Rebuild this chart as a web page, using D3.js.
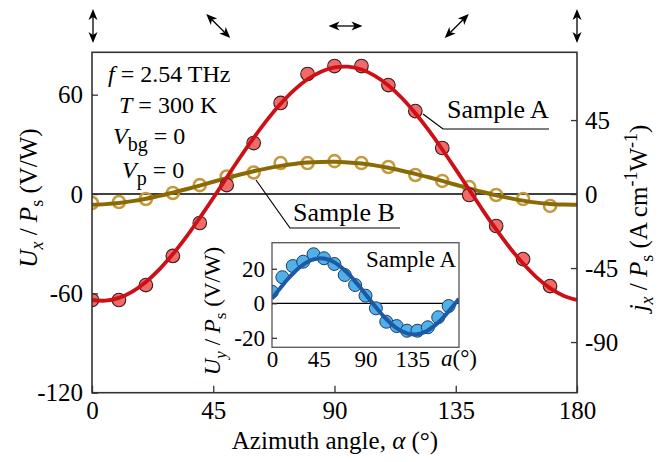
<!DOCTYPE html>
<html><head><meta charset="utf-8">
<script src="https://cdn.jsdelivr.net/npm/d3@7"></script>
<style>
body{margin:0;background:#fff}
svg{display:block}
text{font-family:"Liberation Serif","Times New Roman",serif;fill:#000}
</style>
</head><body>
<svg id="chart" width="663" height="462"></svg>
<script>
// ---------------- data ----------------
const angles = [0,10,20,30,40,50,60,70,80,90,100,110,120,130,140,150,160,170];
const sampleA = [-64.0,-64.0,-55.0,-37.4,-17.5,5.4,30.8,55.0,72.5,77.3,77.3,65.8,50.1,27.8,-0.6,-19.3,-39.3,-55.6];
const sampleB = [-5.4,-4.8,-3.0,0.6,5.4,10.6,13.0,18.7,18.7,19.9,18.7,16.3,11.5,7.9,4.2,-0.6,-3.0,-7.2];
const fitAngles = [0,5,10,15,20,25,30,35,40,45,50,55,60,65,70,75,80,85,90,95,100,105,110,115,120,125,130,135,140,145,150,155,160,165,170,175,180];
const fitA = [-64.0,-64.4,-62.7,-58.9,-53.1,-45.5,-36.3,-25.9,-14.4,-2.4,10.0,22.2,33.9,44.8,54.5,62.8,69.3,73.9,76.5,76.9,75.2,71.4,65.6,58.0,48.8,38.4,26.9,14.9,2.6,-9.7,-21.4,-32.3,-42.0,-50.3,-56.8,-61.4,-64.0];
const fitB = [-6.5,-6.1,-5.4,-4.3,-2.9,-1.1,0.8,2.9,5.1,7.4,9.6,11.8,13.8,15.5,17.0,18.2,19.0,19.4,19.5,19.1,18.4,17.3,15.9,14.1,12.2,10.1,7.9,5.6,3.4,1.2,-0.8,-2.5,-4.0,-5.2,-6.0,-6.4,-6.5];
const insetUy = [6.7,15.1,21.6,24.1,28.4,26.1,22.8,16.4,10.6,4.4,-2.9,-10.7,-13.2,-15.9,-15.9,-13.9,-8.1,-1.6];
const fitUy = [2.7,6.5,10.3,13.9,17.1,20.0,22.4,24.2,25.4,26.0,25.9,25.1,23.7,21.7,19.1,16.1,12.7,9.1,5.3,1.5,-2.3,-5.9,-9.1,-12.0,-14.4,-16.2,-17.4,-18.0,-17.9,-17.1,-15.7,-13.7,-11.1,-8.1,-4.7,-1.1,2.7];
const xTicks = [0,45,90,135,180];
const yTicksLeft = [60,0,-60,-120];
const yTicksRight = [45,0,-45,-90];
const insetXTicks = [0,45,90,135];
const insetYTicks = [20,0,-20];
const polAngles = [0,45,90,135,180];
const polOffsets = [1,5,11,1,0];

// ---------------- layout ----------------
const svg = d3.select("#chart");
const L = 92, R = 577, T = 52.3, B = 392.7;
const x = d3.scaleLinear([0,180],[L,R]);
const y = d3.scaleLinear([-120,85.6],[B,T]);
const yR = d3.scaleLinear([-120.8,86.2],[B,T]);
const fmt = d => String(d); // plain hyphen minus

const defs = svg.append("defs");
defs.append("clipPath").attr("id","clipMain").append("rect")
  .attr("x",L).attr("y",T).attr("width",R-L).attr("height",B-T);

// polarization arrows
const pol = svg.append("g");
polAngles.forEach((a,i)=>{
  const g = pol.append("g").attr("transform",`translate(${x(a)+polOffsets[i]},26) rotate(${-a})`);
  g.append("line").attr("x1",0).attr("x2",0).attr("y1",-11).attr("y2",11)
    .attr("stroke","#000").attr("stroke-width",1.3);
  [1,-1].forEach(s=>{
    g.append("path").attr("d",`M0,${17*s} L${-4.5},${6*s} L0,${9*s} L${4.5},${6*s} Z`).attr("fill","#000");
  });
});

// zero line
svg.append("line").attr("x1",L).attr("x2",R).attr("y1",y(0)).attr("y2",y(0))
  .attr("stroke","#000").attr("stroke-width",1.5);

const plot = svg.append("g").attr("clip-path","url(#clipMain)");
const line = d3.line().x((d,i)=>x(fitAngles[i])).y(d=>y(d)).curve(d3.curveCatmullRom);

// Sample B (gold)
plot.selectAll("circle.b").data(sampleB).join("circle")
  .attr("cx",(d,i)=>x(angles[i])).attr("cy",d=>y(d)).attr("r",6)
  .attr("fill","none").attr("stroke","#c39a3e").attr("stroke-width",2.6);
plot.append("path").attr("d",line(fitB)).attr("fill","none")
  .attr("stroke","#8a6a05").attr("stroke-width",4);

// Sample A (red)
plot.selectAll("circle.a").data(sampleA).join("circle")
  .attr("cx",(d,i)=>x(angles[i])).attr("cy",d=>y(d)).attr("r",6.8)
  .attr("fill","#f06a6a").attr("stroke","#3b1a1a").attr("stroke-width",1.1);
plot.append("path").attr("d",line(fitA)).attr("fill","none")
  .attr("stroke","#cc1016").attr("stroke-width",3.8);

// frame
svg.append("rect").attr("x",L).attr("y",T).attr("width",R-L).attr("height",B-T)
  .attr("fill","none").attr("stroke","#333").attr("stroke-width",1.6);

const fs = 25;
function styleAxis(g, size){
  g.select(".domain").remove();
  g.selectAll(".tick line").attr("stroke","#333").attr("stroke-width",1.3);
  g.selectAll(".tick text").attr("font-size",size).attr("font-family","Liberation Serif").attr("fill","#000");
}
const gxl = svg.append("g").attr("transform",`translate(0,${B})`)
  .call(d3.axisBottom(x).tickValues(xTicks).tickFormat(fmt).tickSizeInner(-7).tickSizeOuter(0).tickPadding(9));
styleAxis(gxl, fs);
const gyl = svg.append("g").attr("transform",`translate(${L},0)`)
  .call(d3.axisLeft(y).tickValues(yTicksLeft).tickFormat(fmt).tickSizeInner(-6).tickSizeOuter(0).tickPadding(9));
styleAxis(gyl, fs);
const gyr = svg.append("g").attr("transform",`translate(${R},0)`)
  .call(d3.axisRight(yR).tickValues(yTicksRight).tickFormat(fmt).tickSizeInner(-6).tickSizeOuter(0).tickPadding(8));
styleAxis(gyr, fs);

// axis titles
const xt = svg.append("text").attr("x",335).attr("y",449).attr("text-anchor","middle").attr("font-size",fs);
xt.append("tspan").text("Azimuth angle, ");
xt.append("tspan").attr("font-style","italic").text("α");
xt.append("tspan").text(" (°)");

const ylt = svg.append("text").attr("transform","translate(28,198) rotate(-90)")
  .attr("text-anchor","middle").attr("dy","0.35em").attr("font-size",fs);
ylt.append("tspan").attr("font-style","italic").text("U");
ylt.append("tspan").attr("font-style","italic").attr("font-size",18).attr("dy",6).text("x");
ylt.append("tspan").attr("dy",-6).text(" / ");
ylt.append("tspan").attr("font-style","italic").text("P");
ylt.append("tspan").attr("font-size",18).attr("dy",6).text("s");
ylt.append("tspan").attr("dy",-6).text("  (V/W)");

const yrt = svg.append("text").attr("transform","translate(638,218) rotate(-90)")
  .attr("text-anchor","middle").attr("dy","0.35em").attr("font-size",fs);
yrt.append("tspan").attr("font-style","italic").text("j");
yrt.append("tspan").attr("font-style","italic").attr("font-size",18).attr("dy",6).text("x");
yrt.append("tspan").attr("dy",-6).text(" / ");
yrt.append("tspan").attr("font-style","italic").text("P");
yrt.append("tspan").attr("font-size",18).attr("dy",6).text("s");
yrt.append("tspan").attr("dy",-6).text(" (A cm");
yrt.append("tspan").attr("font-size",18).attr("dy",-10).text("-1");
yrt.append("tspan").attr("dy",10).text("W");
yrt.append("tspan").attr("font-size",18).attr("dy",-10).text("-1");
yrt.append("tspan").attr("dy",10).text(")");

// annotations
const afs = 24;
const a1 = svg.append("text").attr("x",108).attr("y",82).attr("font-size",afs);
a1.append("tspan").attr("font-style","italic").text("f");
a1.append("tspan").text(" = 2.54 THz");
const a2 = svg.append("text").attr("x",119).attr("y",113).attr("font-size",afs);
a2.append("tspan").attr("font-style","italic").text("T");
a2.append("tspan").text(" = 300 K");
const a3 = svg.append("text").attr("x",113).attr("y",144).attr("font-size",afs);
a3.append("tspan").attr("font-style","italic").text("V");
a3.append("tspan").attr("font-size",20).attr("dy",7).text("bg");
a3.append("tspan").attr("dy",-7).text("  = 0");
const a4 = svg.append("text").attr("x",122).attr("y",178).attr("font-size",afs);
a4.append("tspan").attr("font-style","italic").text("V");
a4.append("tspan").attr("font-size",20).attr("dy",7).text("p");
a4.append("tspan").attr("dy",-7).text("  = 0");

// sample labels with leaders
svg.append("path").attr("d","M423,114 L443,129 L549,129").attr("fill","none").attr("stroke","#000").attr("stroke-width",1.2);
svg.append("text").attr("x",447).attr("y",118).attr("font-size",26).text("Sample A");
svg.append("path").attr("d","M256,180 L290,228 L400,228").attr("fill","none").attr("stroke","#000").attr("stroke-width",1.2);
svg.append("text").attr("x",293).attr("y",221).attr("font-size",26).text("Sample B");

// ---------------- inset ----------------
const iL = 272, iR = 459, iT = 242.7, iB = 347.3;
const ix = d3.scaleLinear([0,180],[iL,iR]);
const iy = d3.scaleLinear([-25.5,35.1],[iB,iT]);
defs.append("clipPath").attr("id","clipInset").append("rect")
  .attr("x",iL).attr("y",iT).attr("width",iR-iL).attr("height",iB-iT);
svg.append("rect").attr("x",iL).attr("y",iT).attr("width",iR-iL).attr("height",iB-iT).attr("fill","#fff");
svg.append("line").attr("x1",iL).attr("x2",iR).attr("y1",iy(0)).attr("y2",iy(0))
  .attr("stroke","#000").attr("stroke-width",1.3);
const ip = svg.append("g").attr("clip-path","url(#clipInset)");
ip.selectAll("circle").data(insetUy).join("circle")
  .attr("cx",(d,i)=>ix(angles[i])).attr("cy",d=>iy(d)).attr("r",6.5)
  .attr("fill","#4fb0ea").attr("stroke","#1c3d63").attr("stroke-width",1);
const iline = d3.line().x((d,i)=>ix(fitAngles[i])).y(d=>iy(d)).curve(d3.curveCatmullRom);
ip.append("path").attr("d",iline(fitUy)).attr("fill","none").attr("stroke","#1d5aa6").attr("stroke-width",4);
svg.append("rect").attr("x",iL).attr("y",iT).attr("width",iR-iL).attr("height",iB-iT)
  .attr("fill","none").attr("stroke","#555").attr("stroke-width",1.3);
const ifs = 23;
const gix = svg.append("g").attr("transform",`translate(0,${iB})`)
  .call(d3.axisBottom(ix).tickValues(insetXTicks).tickFormat(fmt).tickSizeInner(0).tickSizeOuter(0).tickPadding(3));
styleAxis(gix, ifs);
const giy = svg.append("g").attr("transform",`translate(${iL},0)`)
  .call(d3.axisLeft(iy).tickValues(insetYTicks).tickFormat(fmt).tickSizeInner(-5).tickSizeOuter(0).tickPadding(7));
styleAxis(giy, ifs);
const ial = svg.append("text").attr("x",ix(180)).attr("y",366).attr("text-anchor","middle").attr("font-size",ifs);
ial.append("tspan").attr("font-style","italic").text("a");
ial.append("tspan").text("(°)");
svg.append("text").attr("x",iR-3).attr("y",267).attr("text-anchor","end").attr("font-size",ifs).text("Sample A");
const iyt = svg.append("text").attr("transform","translate(212,311) rotate(-90)")
  .attr("text-anchor","middle").attr("dy","0.35em").attr("font-size",ifs);
iyt.append("tspan").attr("font-style","italic").text("U");
iyt.append("tspan").attr("font-style","italic").attr("font-size",17).attr("dy",6).text("y");
iyt.append("tspan").attr("dy",-6).text(" / ");
iyt.append("tspan").attr("font-style","italic").text("P");
iyt.append("tspan").attr("font-size",17).attr("dy",6).text("s");
iyt.append("tspan").attr("dy",-6).text(" (V/W)");
</script>
</body></html>
